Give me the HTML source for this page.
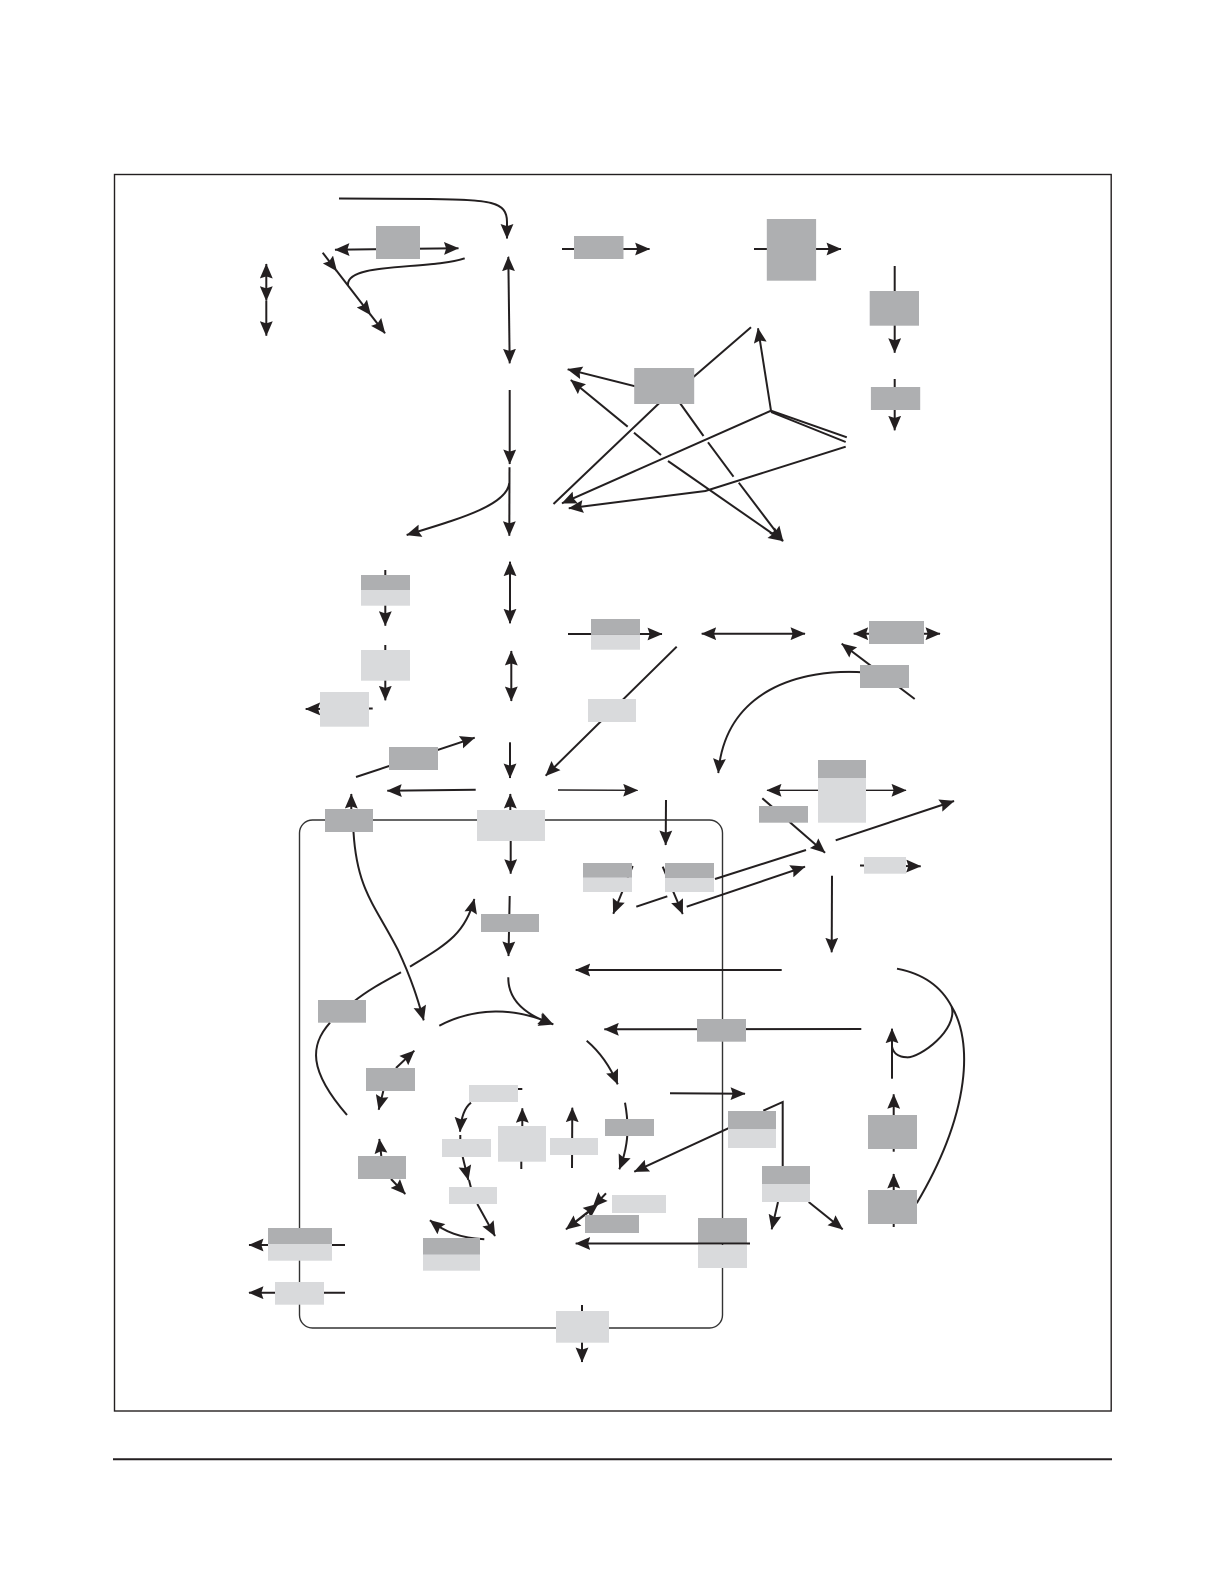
<!DOCTYPE html>
<html lang="en">
<head>
<meta charset="utf-8">
<title>Diagram</title>
<style>
html,body{margin:0;padding:0;background:#fff}
svg{display:block}
.l{fill:none;stroke:#231f20;stroke-width:2}
.t{fill:none;stroke:#231f20;stroke-width:1.4}
.d{fill:#aeafb1}
.g{fill:#d9dadc}
</style>
</head>
<body>
<svg width="1221" height="1585" viewBox="0 0 1221 1585" xmlns="http://www.w3.org/2000/svg">
<defs>
<marker id="a" viewBox="0 0 14 12" refX="13.5" refY="6" markerWidth="15" markerHeight="13" markerUnits="userSpaceOnUse" orient="auto-start-reverse">
<path d="M0 0L14 6L0 12L2 6z" fill="#231f20"/>
</marker>
</defs>

<!-- frames -->
<rect x="114.5" y="174.5" width="996.7" height="1236.5" fill="none" stroke="#231f20" stroke-width="1.4"/>
<rect x="299.5" y="820" width="423" height="508" rx="13" ry="13" fill="none" stroke="#333" stroke-width="1.4"/>
<line x1="113" y1="1459.3" x2="1112" y2="1459.3" stroke="#231f20" stroke-width="2"/>

<!-- top left -->
<path class="l" d="M339 198.5L430 199C490 200 507 201 507 222L507 238.5" marker-end="url(#a)"/>
<path class="l" d="M335 249.7L458.5 248.3" marker-start="url(#a)" marker-end="url(#a)"/>
<path class="l" d="M322.7 252.7L336.7 271" marker-end="url(#a)"/>
<path class="l" d="M336 270L370.7 315" marker-end="url(#a)"/>
<path class="l" d="M370 314L385 333.3" marker-end="url(#a)"/>
<path class="l" d="M464.7 258.3C430 270 346 262 348 285"/>
<path class="l" d="M266.3 264L266.3 300.7" marker-start="url(#a)" marker-end="url(#a)"/>
<path class="l" d="M266.3 301L266.3 335.7" marker-end="url(#a)"/>

<!-- main vertical -->
<path class="l" d="M508.3 256.7L509.7 363.3" marker-start="url(#a)" marker-end="url(#a)"/>
<path class="l" d="M509.7 390L509.7 464" marker-end="url(#a)"/>
<path class="l" d="M509.5 467.3L509.3 535.7" marker-end="url(#a)"/>
<path class="l" d="M509.3 483C507 506 455 520 406.7 535" marker-end="url(#a)"/>

<!-- top row -->
<path class="l" d="M562 249L649.6 249" marker-end="url(#a)"/>
<path class="l" d="M754 249L841 249" marker-end="url(#a)"/>
<path class="l" d="M894.7 266L894.7 352.7" marker-end="url(#a)"/>
<path class="l" d="M894.7 379L894.7 430.3" marker-end="url(#a)"/>

<!-- star -->
<path class="l" d="M640 387.5L567.7 369.3" marker-end="url(#a)"/>
<path class="l" d="M627.7 426.7L570.8 380" marker-end="url(#a)"/>
<path class="l" d="M634 432.7L661 455"/>
<path class="l" d="M668 461L783 541" marker-end="url(#a)"/>
<path class="l" d="M690 380L751 327.3"/>
<path class="l" d="M660.4 402L553.5 504"/>
<path class="l" d="M771 410.7L758 328.3" marker-end="url(#a)"/>
<path class="l" d="M771 410.7L562 503.3" marker-end="url(#a)"/>
<path class="l" d="M771 410.7L846.8 437.3"/>
<path class="l" d="M771 412L845.7 442"/>
<path class="l" d="M845.7 446.7L705.4 491L568.8 508.3" marker-end="url(#a)"/>
<path class="l" d="M679.2 402L703.5 436"/>
<path class="l" d="M708 442.3L733.5 476.7"/>
<path class="l" d="M738.8 482.7L783 541" marker-end="url(#a)"/>

<!-- left mid -->
<path class="l" d="M385.3 570L385.3 625.7" marker-end="url(#a)"/>
<path class="l" d="M385.3 645L385.3 700.3" marker-end="url(#a)"/>
<path class="l" d="M372.7 708.5L305.7 709" marker-end="url(#a)"/>
<path class="l" d="M510 561.7L510 623.3" marker-start="url(#a)" marker-end="url(#a)"/>
<path class="l" d="M511.3 651L511.3 701" marker-start="url(#a)" marker-end="url(#a)"/>
<path class="l" d="M568 634L662 634" marker-end="url(#a)"/>
<path class="l" d="M676.7 646.7L545.7 775.7" marker-end="url(#a)"/>
<path class="l" d="M356 777L474.7 737.7" marker-end="url(#a)"/>
<path class="l" d="M510 742.3L510 778" marker-end="url(#a)"/>
<path class="l" d="M475.7 789.7L387.3 790.7" marker-end="url(#a)"/>
<path class="t" d="M558 790L637.7 790.3" marker-end="url(#a)"/>
<path class="l" d="M351.3 812L351.3 794" marker-end="url(#a)"/>
<path class="l" d="M510.3 812L510.3 794" marker-end="url(#a)"/>
<path class="l" d="M510.7 840L510.7 873.7" marker-end="url(#a)"/>
<path class="l" d="M666 800L665.7 845" marker-end="url(#a)"/>
<path class="l" d="M632.7 866L613.3 913.7" marker-end="url(#a)"/>
<path class="l" d="M662.7 866.7L682.7 914" marker-end="url(#a)"/>
<path class="l" d="M636.3 906.7L667.3 896.3"/>
<path class="l" d="M715 879L806 850"/>
<path class="l" d="M686.7 906.7L805 866.7" marker-end="url(#a)"/>
<path class="l" d="M509.7 896L508.5 956" marker-end="url(#a)"/>
<path class="l" d="M353.5 832C357 890 375 905 398 950C412 980 418 1000 423.7 1020.3" marker-end="url(#a)"/>
<path class="l" d="M401 972.3C385 981 368 990 353.3 1002"/>
<path class="l" d="M410 966.7C445 945 465 935 474.3 899" marker-end="url(#a)"/>
<path class="l" d="M330 1022.7C310 1045 308 1070 347 1115"/>

<!-- right mid -->
<path class="l" d="M701.7 633.7L805 633.7" marker-start="url(#a)" marker-end="url(#a)"/>
<path class="l" d="M853.7 633.7L940 633.7" marker-start="url(#a)" marker-end="url(#a)"/>
<path class="l" d="M914.7 699L841.7 643.7" marker-end="url(#a)"/>
<path class="l" d="M865 672.5C800 668 725 690 718.3 773" marker-end="url(#a)"/>
<path class="t" d="M767 790.3L906 790.3" marker-start="url(#a)" marker-end="url(#a)"/>
<path class="l" d="M762.3 798.3L825 852.7" marker-end="url(#a)"/>
<path class="l" d="M835.7 840.3L954 801" marker-end="url(#a)"/>
<path class="l" d="M860 865.5L920.7 866.3" marker-end="url(#a)"/>
<path class="l" d="M832 875.7L831.7 952.3" marker-end="url(#a)"/>
<path class="l" d="M781.7 970L575.7 970" marker-end="url(#a)"/>
<path class="l" d="M897 968.7C925 974 942 988 951.7 1006.7C972 1040 972 1110 916.7 1203.3"/>
<path class="l" d="M951.7 1006.7C958 1030 920 1058 906.7 1057.3C897 1057 893 1052 892 1046.7"/>
<path class="l" d="M861.3 1029L604.3 1029.3" marker-end="url(#a)"/>
<path class="l" d="M892 1078.7L892 1028.7" marker-end="url(#a)"/>
<path class="l" d="M670 1093.3L745 1093.7" marker-end="url(#a)"/>

<!-- interior -->
<path class="l" d="M508.3 977.3C508 1000 525 1015 553.3 1024.3" marker-end="url(#a)"/>
<path class="l" d="M439.3 1025.7C475 1007 515 1007 553 1024.3" marker-end="url(#a)"/>
<path class="l" d="M586.7 1040.7C600 1052 610 1066 617.7 1084.3" marker-end="url(#a)"/>
<path class="l" d="M396 1068L414.3 1050.7" marker-end="url(#a)"/>
<path class="l" d="M383.3 1091L378.7 1109.7" marker-end="url(#a)"/>
<path class="l" d="M381.3 1156L379.3 1139" marker-end="url(#a)"/>
<path class="l" d="M391 1179L405.3 1194" marker-end="url(#a)"/>
<path class="l" d="M518 1089L522.3 1089"/>
<path class="l" d="M471 1102.7C464 1108 461 1118 460 1131.7" marker-end="url(#a)"/>
<path class="l" d="M460.3 1135L460.3 1140"/>
<path class="l" d="M462.7 1157L468.3 1180" marker-end="url(#a)"/>
<path class="l" d="M469 1180L471 1188"/>
<path class="l" d="M477.3 1204L495 1236" marker-end="url(#a)"/>
<path class="l" d="M522.3 1130L522.3 1108.3" marker-end="url(#a)"/>
<path class="l" d="M521.3 1160L521.3 1169"/>
<path class="l" d="M572 1168L572.3 1107.7" marker-end="url(#a)"/>
<path class="l" d="M484.3 1239.3C460 1238 445 1232 430 1220.3" marker-end="url(#a)"/>
<path class="l" d="M345 1245L249 1245" marker-end="url(#a)"/>
<path class="l" d="M345 1292.7L249 1292.7" marker-end="url(#a)"/>
<path class="l" d="M625 1102.7C629 1125 629 1145 619.3 1169.3" marker-end="url(#a)"/>
<path class="l" d="M606 1193.3L593 1207" marker-end="url(#a)"/>
<path class="l" d="M590 1211L566 1229.3" marker-end="url(#a)"/>
<path class="l" d="M575 1222L598 1204" marker-end="url(#a)"/>
<path class="l" d="M763.3 1110.7L782.7 1102L782.7 1166"/>
<path class="l" d="M728.3 1128.3L634.3 1171.7" marker-end="url(#a)"/>
<path class="l" d="M778 1202L771.7 1229.3" marker-end="url(#a)"/>
<path class="l" d="M808.7 1202L842.7 1229.3" marker-end="url(#a)"/>
<path class="l" d="M893.7 1151.7L893.7 1094.3" marker-end="url(#a)"/>
<path class="l" d="M893.7 1227L893.7 1174" marker-end="url(#a)"/>
<path class="l" d="M582 1305L582 1362" marker-end="url(#a)"/>

<!-- boxes -->
<rect class="d" x="376" y="226" width="44" height="33"/>
<rect class="d" x="574" y="236" width="49.5" height="23"/>
<rect class="d" x="766.8" y="219" width="49.3" height="61.7"/>
<rect class="d" x="869.7" y="291" width="49.3" height="34.7"/>
<rect class="d" x="870.9" y="387" width="49.3" height="23"/>
<rect class="d" x="634.2" y="368" width="60" height="36"/>

<rect class="d" x="361" y="575" width="49" height="15"/><rect class="g" x="361" y="590" width="49" height="15.7"/>
<rect class="g" x="361" y="650" width="49" height="30.7"/>
<rect class="g" x="320" y="692" width="49" height="34.7"/>
<rect class="d" x="591" y="619" width="49" height="15.7"/><rect class="g" x="591" y="634.7" width="49" height="15"/>
<rect class="g" x="588" y="699" width="48" height="23"/>
<rect class="d" x="389" y="747" width="49" height="23"/>
<rect class="d" x="325" y="809" width="48" height="23"/>
<rect class="g" x="477" y="810" width="68" height="31"/>
<rect class="d" x="583" y="863" width="49" height="14.7"/><rect class="g" x="583" y="877.7" width="49" height="14.3"/>
<rect class="d" x="665" y="863" width="49" height="15"/><rect class="g" x="665" y="878" width="49" height="14"/>
<rect class="d" x="481" y="914" width="58" height="18"/>
<rect class="d" x="318" y="1000" width="48" height="22.7"/>

<rect class="d" x="869" y="621" width="55" height="23"/>
<rect class="d" x="860" y="665" width="49" height="23"/>
<rect class="d" x="818" y="760" width="48" height="18"/><rect class="g" x="818" y="778" width="48" height="44.7"/>
<rect class="d" x="759" y="806" width="49" height="16.7"/>
<rect class="g" x="864" y="857" width="42" height="16.7"/>

<rect class="d" x="697" y="1019" width="49" height="22.7"/>
<rect class="d" x="868" y="1115" width="49" height="34"/>
<rect class="d" x="868" y="1190" width="49" height="34"/>
<rect class="d" x="728" y="1111" width="48" height="18"/><rect class="g" x="728" y="1129" width="48" height="19"/>
<rect class="d" x="762" y="1166" width="48" height="18"/><rect class="g" x="762" y="1184" width="48" height="18"/>
<rect class="d" x="698" y="1218" width="49" height="25"/><rect class="g" x="698" y="1245" width="49" height="23"/>
<rect class="d" x="605" y="1119" width="49" height="17"/>
<rect class="g" x="612" y="1195" width="54" height="18"/>
<rect class="d" x="585" y="1215" width="54" height="18"/>
<rect class="g" x="556" y="1311" width="53" height="31.7"/>

<rect class="d" x="366" y="1068" width="49" height="23"/>
<rect class="d" x="358" y="1156" width="48" height="23"/>
<rect class="g" x="469" y="1085" width="49" height="17"/>
<rect class="g" x="442" y="1139" width="49" height="18"/>
<rect class="g" x="449" y="1187" width="48" height="17"/>
<rect class="g" x="498" y="1126" width="48" height="35.7"/>
<rect class="g" x="550" y="1138" width="48" height="17"/>
<rect class="d" x="423" y="1238" width="57" height="16.7"/><rect class="g" x="423" y="1254.7" width="57" height="16"/>
<rect class="d" x="268" y="1228" width="64" height="16"/><rect class="g" x="268" y="1244" width="64" height="16.7"/>
<rect class="g" x="275" y="1282" width="49" height="22.7"/>

<!-- line over box -->
<path class="l" d="M750 1243.5L575.7 1243.5" marker-end="url(#a)"/>
</svg>
</body>
</html>
